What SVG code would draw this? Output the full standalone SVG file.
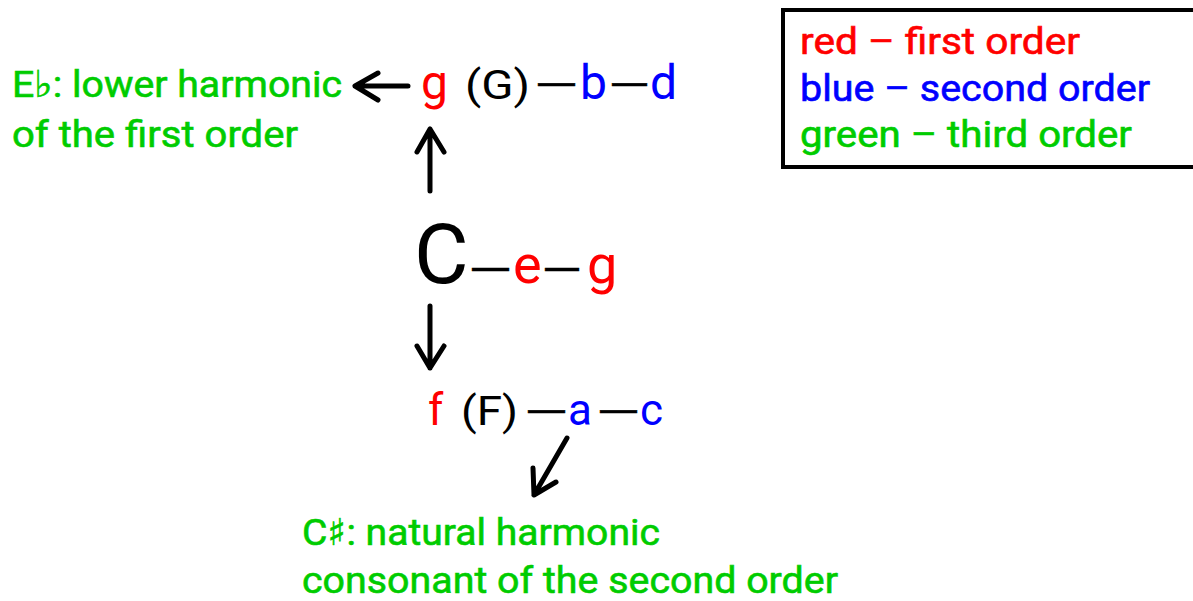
<svg xmlns="http://www.w3.org/2000/svg" width="1193" height="601" viewBox="0 0 1193 601">
<style>
.note{font-family:Roboto,"Liberation Sans",sans-serif;font-weight:400}
.dash{font-family:"Liberation Sans",Arial,sans-serif;font-weight:400;fill:#000;stroke:#000;stroke-width:0.4}
.lbl{font-family:Roboto,"DejaVu Sans",sans-serif;font-weight:400;fill:#00cc00;stroke:#00cc00;stroke-width:0.6}
.leg{font-family:Roboto,"DejaVu Sans",sans-serif;font-weight:400;stroke-width:0.6}
.red{fill:#ff0000}.blue{fill:#0000ff}.blk{fill:#000}
.arr{fill:none;stroke:#000;stroke-width:5;stroke-linecap:round;stroke-linejoin:round}
</style>
<rect width="1193" height="601" fill="#fff"/>
<g id="legend">
<rect x="783" y="10" width="420" height="157" fill="#fff" stroke="#000" stroke-width="4"/>
<text class="leg red" stroke="#ff0000" x="800" y="54" font-size="36" textLength="280" lengthAdjust="spacingAndGlyphs">red – first order</text>
<text class="leg blue" stroke="#0000ff" x="800" y="101" font-size="36" textLength="350" lengthAdjust="spacingAndGlyphs">blue – second order</text>
<text class="leg" x="800" y="147" font-size="36" fill="#00cc00" stroke="#00cc00" textLength="332" lengthAdjust="spacingAndGlyphs">green – third order</text>
</g>
<g id="node-eflat">
<text class="lbl" x="12" y="97" font-size="37" textLength="330" lengthAdjust="spacingAndGlyphs">E♭: lower harmonic</text>
<text class="lbl" x="12" y="147" font-size="37" textLength="286" lengthAdjust="spacingAndGlyphs">of the first order</text>
</g>
<g id="node-g">
<text class="note red" x="421" y="99" font-size="48">g</text>
<text class="note blk" x="465" y="99" font-size="40" textLength="65" lengthAdjust="spacingAndGlyphs">(G)</text>
<text class="dash" x="538" y="95" font-size="40" textLength="37" lengthAdjust="spacingAndGlyphs">—</text>
<text class="note blue" x="580" y="99" font-size="48">b</text>
<text class="dash" x="612" y="95" font-size="40" textLength="35" lengthAdjust="spacingAndGlyphs">—</text>
<text class="note blue" x="650" y="99" font-size="48">d</text>
</g>
<g id="node-c">
<text class="note blk" x="414" y="283" font-size="84">C</text>
<text class="dash" x="472" y="281" font-size="44" textLength="37" lengthAdjust="spacingAndGlyphs">—</text>
<text class="note red" x="513" y="283" font-size="54">e</text>
<text class="dash" x="545" y="281" font-size="44" textLength="34" lengthAdjust="spacingAndGlyphs">—</text>
<text class="note red" x="587" y="283" font-size="54">g</text>
</g>
<g id="node-f">
<text class="note red" x="428" y="425" font-size="44">f</text>
<text class="note blk" x="461" y="425" font-size="40" textLength="57" lengthAdjust="spacingAndGlyphs">(F)</text>
<text class="dash" x="528" y="422" font-size="40" textLength="37" lengthAdjust="spacingAndGlyphs">—</text>
<text class="note blue" x="568" y="425" font-size="44">a</text>
<text class="dash" x="600" y="422" font-size="40" textLength="37" lengthAdjust="spacingAndGlyphs">—</text>
<text class="note blue" x="640" y="425" font-size="44">c</text>
</g>
<g id="node-csharp">
<text class="lbl" x="302" y="545" font-size="37" textLength="358" lengthAdjust="spacingAndGlyphs">C♯: natural harmonic</text>
<text class="lbl" x="302" y="593" font-size="37" textLength="536" lengthAdjust="spacingAndGlyphs">consonant of the second order</text>
</g>
<g id="connectors">
<path class="arr" d="M408 86H355M378 73L355 86L378 100"/>
<path class="arr" d="M430 191V129M417 152L430 129L444 152"/>
<path class="arr" d="M430 306V368M417 346L430 368L444 346"/>
<path class="arr" d="M567 438L534 495M533 468L534 495L556 482"/>
</g>
</svg>
